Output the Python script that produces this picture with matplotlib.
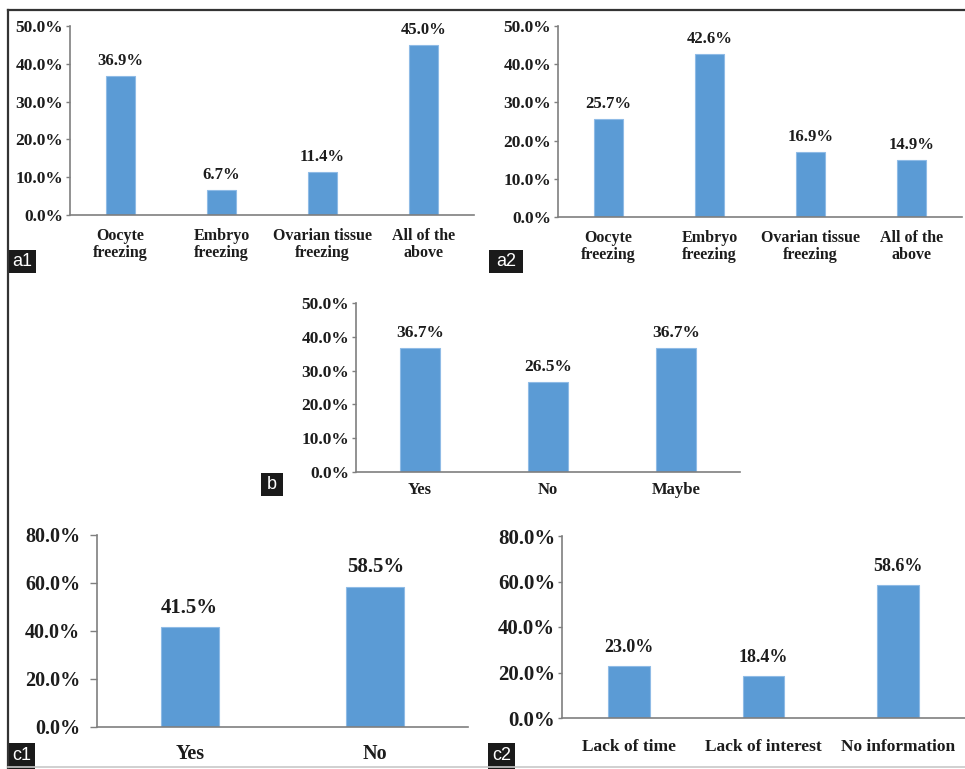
import matplotlib
matplotlib.use("Agg")
import matplotlib.pyplot as plt
from matplotlib.patches import Rectangle
from matplotlib.lines import Line2D

# panel data
a1_labels = ["Oocyte\nfreezing", "Embryo\nfreezing", "Ovarian tissue\nfreezing", "All of the\nabove"]
a1_values = [36.9, 6.7, 11.4, 45.0]

a2_labels = ["Oocyte\nfreezing", "Embryo\nfreezing", "Ovarian tissue\nfreezing", "All of the\nabove"]
a2_values = [25.7, 42.6, 16.9, 14.9]

b_labels = ["Yes", "No", "Maybe"]
b_values = [36.7, 26.5, 36.7]

c1_labels = ["Yes", "No"]
c1_values = [41.5, 58.5]

c2_labels = ["Lack of time", "Lack of interest", "No information"]
c2_values = [23.0, 18.4, 58.6]

ticks_small = [0, 10, 20, 30, 40, 50]
ticks_big = [0, 20, 40, 60, 80]

BAR = "#5B9BD5"
AXC = "#7f7f7f"
TXT = "#1c1c1c"
SERIF = "Liberation Serif"
W, H = 965, 769

fig = plt.figure(figsize=(W / 100, H / 100), dpi=100)
fig.patch.set_facecolor("white")


def px_axes(left, right, bottom, top):
    # pixel box -> figure fraction
    return fig.add_axes([left / W, 1 - bottom / H, (right - left) / W, (bottom - top) / H])


def bar_panel(ax, labels, values, ticks, yfs, xfs, vfs, xpad, ypad, tlen, voff, width=0.3):
    x = range(len(values))
    ax.bar(x, values, width=width, color=BAR, edgecolor="#8fbbe6", linewidth=0.8, zorder=2)
    ax.set_xlim(-0.5, len(values) - 0.5)
    ax.set_ylim(ticks[0], ticks[-1])
    ax.set_yticks(ticks)
    ax.set_yticklabels([f"{t:.1f}%" for t in ticks], fontfamily=SERIF,
                       fontweight="bold", fontsize=yfs, color=TXT)
    ax.set_xticks(list(x))
    ax.set_xticklabels(labels, linespacing=1.15, fontfamily=SERIF,
                       fontweight="bold", fontsize=xfs, color=TXT)
    for s in ["top", "right"]:
        ax.spines[s].set_visible(False)
    for s in ["left", "bottom"]:
        ax.spines[s].set_color(AXC)
        ax.spines[s].set_linewidth(1.2)
    ax.tick_params(axis="y", length=tlen, width=1.0, color=AXC, pad=ypad)
    ax.tick_params(axis="x", length=0, pad=xpad)
    for i, v in enumerate(values):
        ax.annotate(f"{v:.1f}%", (i, v), xytext=(0, voff), textcoords="offset points",
                    ha="center", va="bottom", fontfamily=SERIF,
                    fontweight="bold", fontsize=vfs, color=TXT)


ax_a1 = px_axes(70, 474, 215, 26)
bar_panel(ax_a1, a1_labels, a1_values, ticks_small, 12.5, 11.5, 12, 9, 2, 3, 5, width=0.29)

ax_a2 = px_axes(558, 962, 217, 26)
bar_panel(ax_a2, a2_labels, a2_values, ticks_small, 12.5, 11.5, 12, 9, 2, 3, 5, width=0.29)

ax_b = px_axes(356, 740, 472, 303)
bar_panel(ax_b, b_labels, b_values, ticks_small, 12.5, 12, 12.5, 7, 2, 3, 5, width=0.31)

ax_c1 = px_axes(97, 468, 727, 535)
bar_panel(ax_c1, c1_labels, c1_values, ticks_big, 14.5, 14.5, 15, 12, 7, 5, 7, width=0.31)

ax_c2 = px_axes(562, 965, 718, 536)
bar_panel(ax_c2, c2_labels, c2_values, ticks_big, 15, 12.5, 13, 15, 2, 3, 7, width=0.31)

# outer frame
fig.add_artist(Line2D([8 / W, 8 / W], [0, 1 - 10 / H], color="#333333", lw=1.6))
fig.add_artist(Line2D([8 / W, 1], [1 - 10 / H, 1 - 10 / H], color="#333333", lw=1.6))
fig.add_artist(Line2D([8 / W, 1], [1 - 767 / H, 1 - 767 / H], color="#c8c8c8", lw=1.2))

# panel tags
tags = [("a1", 8, 36, 250, 273), ("a2", 489, 523, 250, 273), ("b", 261, 283, 473, 496),
        ("c1", 8, 35, 743, 769), ("c2", 488, 515, 743, 769)]
for name, x0, x1, y0, y1 in tags:
    fig.add_artist(Rectangle((x0 / W, 1 - y1 / H), (x1 - x0) / W, (y1 - y0) / H,
                             transform=fig.transFigure, facecolor="#1a1a1a", edgecolor="none"))
    fig.text((x0 + x1) / 2 / W, 1 - (y0 + y1) / 2 / H, name, color="white",
             fontsize=13, fontfamily="Liberation Sans", ha="center", va="center")

fig.savefig("out.png", dpi=100, facecolor="white")
